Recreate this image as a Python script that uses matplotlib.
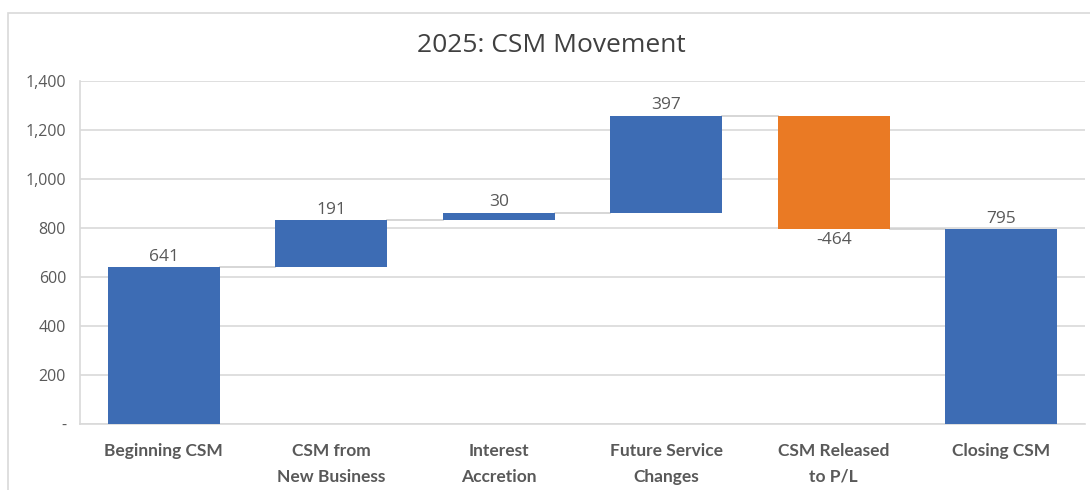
import matplotlib.pyplot as plt
from matplotlib.patches import Rectangle

# data
categories = ['Beginning CSM', 'CSM from\nNew Business', 'Interest\nAccretion',
              'Future Service\nChanges', 'CSM Released\nto P/L', 'Closing CSM']
values = [641, 191, 30, 397, -464, 795]
is_total = [True, False, False, False, False, True]
yticks = [0, 200, 400, 600, 800, 1000, 1200, 1400]
ytick_labels = ['-', '200', '400', '600', '800', '1,000', '1,200', '1,400']

blue = '#3D6CB4'
orange = '#EA7A24'
grey_txt = '#595959'

fig = plt.figure(figsize=(10.9, 4.9), dpi=100)
ax = fig.add_axes([0.0734, 0.1347, 0.9220, 0.7000])

# waterfall: bottoms and heights
bottoms = []
heights = []
running = 0
for v, tot in zip(values, is_total):
    if tot:
        bottoms.append(0)
        heights.append(v)
        running = v
    else:
        bottoms.append(running if v >= 0 else running + v)
        heights.append(abs(v))
        running += v

colors = [blue if v >= 0 else orange for v in values]
x = list(range(len(categories)))
w = 0.67
ax.bar(x, heights, bottom=bottoms, width=w, color=colors, zorder=3)

# connector lines between bars
running = 0
for i, (v, tot) in enumerate(zip(values, is_total)):
    running = v if tot else running + v
    if i < len(values) - 1:
        ax.plot([i + w / 2, i + 1 - w / 2], [running, running],
                color='#d0d0d0', lw=1.2, zorder=2)

# data labels
for i, v in enumerate(values):
    if v >= 0:
        ax.text(i, bottoms[i] + heights[i] + 10, f'{v:,}', ha='center', va='bottom',
                fontsize=12.5, color=grey_txt, family='Open Sans')
    else:
        ax.text(i, bottoms[i] - 10, f'{v:,}', ha='center', va='top',
                fontsize=12.5, color=grey_txt, family='Open Sans')

ax.set_xlim(-0.5, 5.5)
ax.set_ylim(0, 1400)
ax.set_yticks(yticks)
ax.set_yticklabels(ytick_labels, fontsize=11.5, color=grey_txt, family='Open Sans')
ax.set_xticks(x)
ax.set_xticklabels(categories, fontsize=12.5, color=grey_txt, family='Lato',
                   fontweight='bold', linespacing=1.7, va='top')
ax.tick_params(axis='both', length=0)
ax.tick_params(axis='y', pad=10)
ax.tick_params(axis='x', pad=14)
ax.grid(axis='y', color='#d9d9d9', lw=1.2, zorder=0)
for s in ['top', 'right']:
    ax.spines[s].set_visible(False)
ax.spines['left'].set_color('#d9d9d9')
ax.spines['bottom'].set_color('#d9d9d9')
ax.spines['left'].set_linewidth(1.2)
ax.spines['bottom'].set_linewidth(1.2)

fig.text(0.506, 0.908, '2025: CSM Movement', ha='center', va='center',
         fontsize=19, color='#404040', family='Open Sans')

# outer chart border
fig.patches.append(Rectangle((8 / 1090, -0.01), 1.1, 1 - 13 / 490 + 0.01,
                             transform=fig.transFigure, fill=False,
                             edgecolor='#d9d9d9', lw=1.2))

fig.savefig('out.png', dpi=100)
